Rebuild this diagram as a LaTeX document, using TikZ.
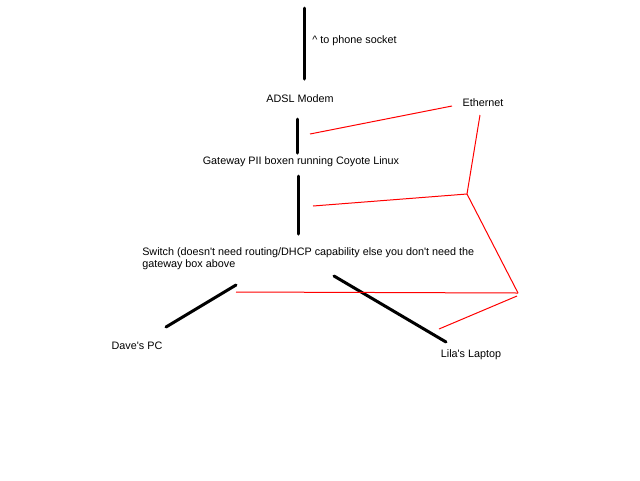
\documentclass[tikz,border=0pt]{standalone}
\usepackage{fontspec}
\setmainfont{Liberation Sans}
\usetikzlibrary{positioning}

\begin{document}
\begin{tikzpicture}[x=0.75pt, y=-0.75pt,
	cable/.style={line width=2.25pt, line cap=round},
	ether/.style={red, line width=0.75pt},
	lbl/.style={inner sep=0pt, font=\fontsize{8.1}{9}\selectfont}]
			\useasboundingbox (0,0) rectangle (640,480);
			% Labels
			\node[lbl, anchor=west] (phone) at (312,41) {\textasciicircum\ to phone socket};
			\node[lbl] (modem) at (300,99) {ADSL Modem};
			\node[lbl] (ethernet) at (483,103) {Ethernet};
			\node[lbl] (gateway) at (301,162) {Gateway PII boxen running Coyote Linux};
			\node[lbl, anchor=west, align=left] (switch) at (142,259) {Switch (doesn\textquotesingle t need routing/DHCP capability else you don\textquotesingle t need the\\gateway box above};
			\node[lbl] (dave) at (137,346) {Dave\textquotesingle s PC};
			\node[lbl] (lila) at (471,355) {Lila\textquotesingle s Laptop};
			% Cable ends
			\coordinate (p1) at (304,8);    \coordinate (p2) at (304,79);
			\coordinate (m1) at (297,119);  \coordinate (m2) at (297,153);
			\coordinate (g1) at (298,176);  \coordinate (g2) at (298,234);
			\coordinate (d1) at (236,285);  \coordinate (d2) at (166,327);
			\coordinate (l1) at (334,276);  \coordinate (l2) at (446,342);
			% Black cables
			\draw[cable] (p1) -- (p2);
			\draw[cable] (m1) -- (m2);
			\draw[cable] (g1) -- (g2);
			\draw[cable] (d1) -- (d2);
			\draw[cable] (l1) -- (l2);
			% Ethernet pointers
			\coordinate (e1) at (480,115);
			\coordinate (e2) at (467,194);
			\coordinate (e3) at (518,293);
			\coordinate (em) at (310,134);  \coordinate (emt) at (452,106);
			\coordinate (eg) at (313,206);
			\coordinate (es) at (236,292);
			\coordinate (el) at (439,329);  \coordinate (elt) at (517,296);
			\draw[ether] (em) -- (emt);
			\draw[ether] (e1) -- (e2) -- (e3);
			\draw[ether] (eg) -- (e2);
			\draw[ether] (es) -- (e3);
			\draw[ether] (el) -- (elt);
		\end{tikzpicture}
\end{document}
